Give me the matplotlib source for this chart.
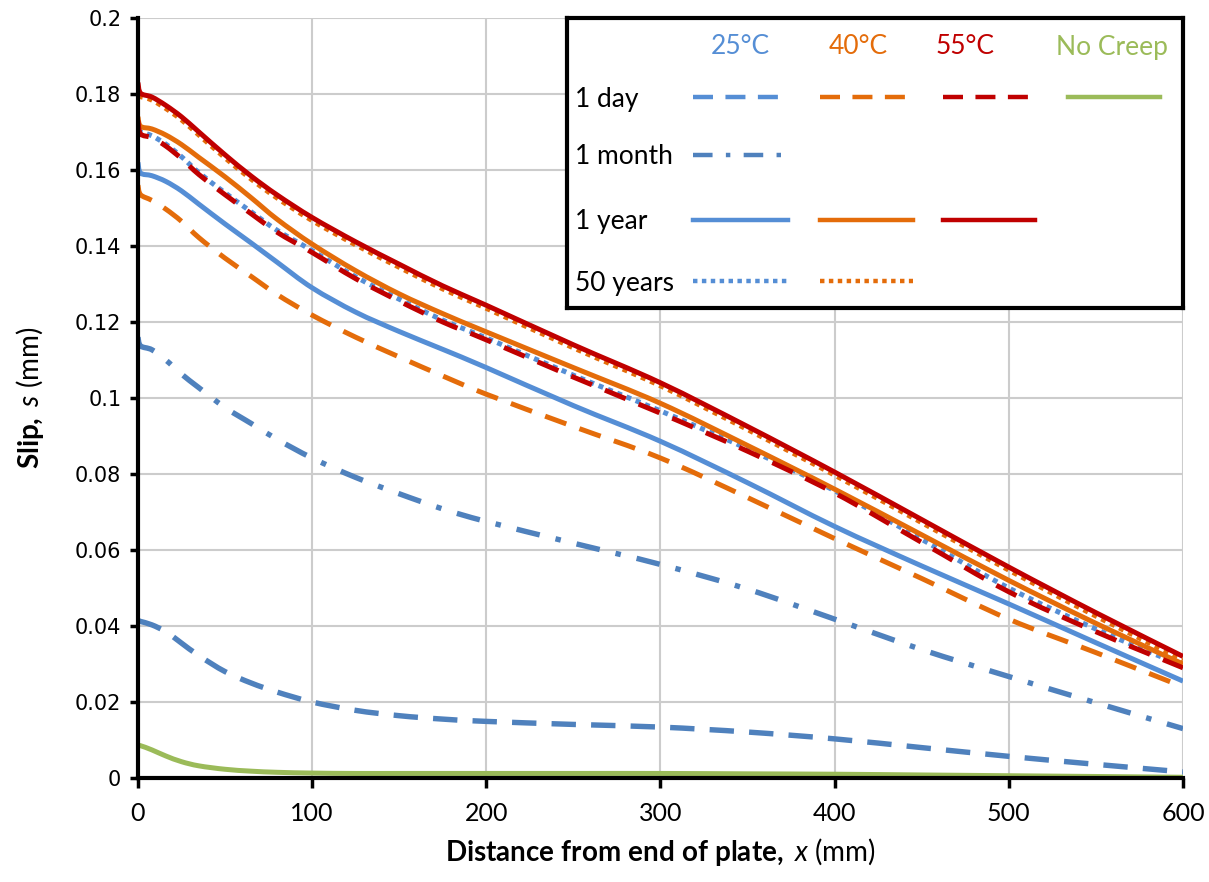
import matplotlib
matplotlib.use('Agg')
import matplotlib.pyplot as plt
from matplotlib.path import Path
from matplotlib.patches import PathPatch

plt.rcParams['font.family'] = ['Lato', 'DejaVu Sans']
plt.rcParams['mathtext.fontset'] = 'custom'
plt.rcParams['mathtext.rm'] = 'Lato'
plt.rcParams['mathtext.it'] = 'Lato:italic'
plt.rcParams['mathtext.bf'] = 'Lato:bold'

# distance from end of plate (mm)
x = [0, 1.5, 8, 16, 25, 35, 50, 65, 80, 100, 125, 150, 175, 200, 250, 300, 350, 400, 450, 500, 550, 600]

# slip (mm)
t25_day = [0.0415, 0.0412, 0.0403, 0.0385, 0.0355, 0.0322, 0.0280, 0.0250, 0.0226, 0.0200, 0.0178, 0.0164,
           0.0155, 0.0149, 0.0141, 0.0134, 0.0121, 0.0103, 0.0080, 0.0057, 0.0036, 0.0016]
t25_month = [0.116, 0.1137, 0.1127, 0.1100, 0.1063, 0.1027, 0.0975, 0.0933, 0.0891, 0.0842, 0.0791, 0.0748,
             0.0708, 0.0675, 0.0618, 0.0562, 0.0497, 0.0418, 0.0338, 0.0267, 0.0198, 0.0130]
t25_year = [0.162, 0.1592, 0.1585, 0.1570, 0.1545, 0.1510, 0.1458, 0.1408, 0.1357, 0.1290, 0.1226, 0.1175,
            0.1128, 0.1080, 0.0980, 0.0886, 0.0777, 0.0662, 0.0558, 0.0458, 0.0356, 0.0255]
t25_50y = [0.1705, 0.1700, 0.1690, 0.1668, 0.1635, 0.1593, 0.1540, 0.1490, 0.1441, 0.1388, 0.1319, 0.1260,
           0.1205, 0.1158, 0.1060, 0.0966, 0.0866, 0.0756, 0.0628, 0.0500, 0.0392, 0.0295]
t40_day = [0.156, 0.1535, 0.1520, 0.1497, 0.1465, 0.1422, 0.1368, 0.1320, 0.1272, 0.1218, 0.1160, 0.1108,
           0.1058, 0.1010, 0.0925, 0.0842, 0.0738, 0.0630, 0.0525, 0.0418, 0.0330, 0.0240]
t40_year = [0.174, 0.1715, 0.1708, 0.1692, 0.1667, 0.1633, 0.1582, 0.1527, 0.1470, 0.1405, 0.1335, 0.1274,
            0.1222, 0.1174, 0.1080, 0.0986, 0.0875, 0.0760, 0.0640, 0.0520, 0.0407, 0.0300]
t40_50y = [0.1795, 0.1793, 0.1784, 0.1762, 0.1732, 0.1692, 0.1632, 0.1576, 0.1526, 0.1467, 0.1403, 0.1344,
           0.1287, 0.1236, 0.1132, 0.1032, 0.0917, 0.0797, 0.0672, 0.0547, 0.0426, 0.0311]
t55_day = [0.173, 0.1695, 0.1685, 0.1663, 0.1630, 0.1588, 0.1535, 0.1485, 0.1436, 0.1383, 0.1314, 0.1255,
           0.1200, 0.1153, 0.1055, 0.0960, 0.0860, 0.0750, 0.0620, 0.0490, 0.0385, 0.0290]
t55_year = [0.183, 0.1802, 0.1792, 0.1770, 0.1740, 0.1700, 0.1640, 0.1584, 0.1534, 0.1475, 0.1411, 0.1352,
            0.1295, 0.1244, 0.1140, 0.1040, 0.0925, 0.0805, 0.0680, 0.0555, 0.0435, 0.0320]
no_creep = [0.0085, 0.0085, 0.0074, 0.0058, 0.0043, 0.0032, 0.0023, 0.0018, 0.0015, 0.0013, 0.0012, 0.0012,
            0.0012, 0.0012, 0.0012, 0.0012, 0.0011, 0.0010, 0.0008, 0.0006, 0.0004, 0.0002]

BLUE_D = '#4F81BD'
BLUE = '#558ED5'
ORANGE = '#E46C0A'
RED = '#C00000'
GREEN = '#9BBB59'
LW = 3.6
DASH = (0, (4.5, 2.8))
DASHDOT = (0, (4.4, 3, 1, 3))
DOT = (0, (1, 1))


def smooth_line(ax, xs, ys, **kw):
    # Excel-style smoothed line: cubic Bezier segments through the data points
    pts = list(zip(xs, ys))
    verts = [pts[0]]
    codes = [Path.MOVETO]
    n = len(pts)
    for i in range(n - 1):
        p0 = pts[max(i - 1, 0)]
        p1 = pts[i]
        p2 = pts[i + 1]
        p3 = pts[min(i + 2, n - 1)]
        c1 = (p1[0] + (p2[0] - p0[0]) / 6, p1[1] + (p2[1] - p0[1]) / 6)
        c2 = (p2[0] - (p3[0] - p1[0]) / 6, p2[1] - (p3[1] - p1[1]) / 6)
        verts += [c1, c2, p2]
        codes += [Path.CURVE4] * 3
    ax.add_patch(PathPatch(Path(verts, codes), fill=False, **kw))


fig = plt.figure(figsize=(12.09, 8.82), dpi=100)
ax = fig.add_axes([0.1141, 0.1179, 0.8644, 0.8617])

smooth_line(ax, x, t25_day, edgecolor=BLUE_D, lw=LW + 0.3, ls=DASH)
smooth_line(ax, x, t25_month, edgecolor=BLUE_D, lw=LW + 0.3, ls=DASHDOT)
smooth_line(ax, x, t25_year, edgecolor=BLUE, lw=LW)
smooth_line(ax, x, t25_50y, edgecolor=BLUE, lw=LW, ls=DOT)
smooth_line(ax, x, t40_day, edgecolor=ORANGE, lw=LW, ls=DASH)
smooth_line(ax, x, t40_year, edgecolor=ORANGE, lw=LW)
smooth_line(ax, x, t40_50y, edgecolor=ORANGE, lw=LW, ls=DOT)
smooth_line(ax, x, t55_day, edgecolor=RED, lw=LW, ls=DASH)
smooth_line(ax, x, t55_year, edgecolor=RED, lw=LW)
smooth_line(ax, x, no_creep, edgecolor=GREEN, lw=LW)

ax.set_xlim(0, 600)
ax.set_ylim(0, 0.2)
ax.set_xticks(range(0, 601, 100))
ax.set_yticks([i * 0.02 for i in range(11)])
ax.set_yticklabels(['0', '0.02', '0.04', '0.06', '0.08', '0.1', '0.12', '0.14', '0.16', '0.18', '0.2'],
                   family='DejaVu Sans', fontsize=15)
ax.tick_params(axis='x', labelsize=18, length=7, width=2.5, direction='out', pad=10)
ax.tick_params(axis='y', length=6, width=2.5, direction='out', pad=6)
ax.grid(True, color='#CCCCCC', lw=1.5)
ax.set_axisbelow(True)
for s in ['top', 'right']:
    ax.spines[s].set_visible(False)
for s in ['left', 'bottom']:
    ax.spines[s].set_linewidth(3)
    ax.spines[s].set_zorder(5)

ax.set_xlabel(r'$\mathbf{Distance\ from\ end\ of\ plate,}$ $\mathit{x}$ (mm)', fontsize=20, labelpad=8)
ax.set_ylabel(r'$\mathbf{Slip,}$ $\mathit{s}$ (mm)', fontsize=20, labelpad=21)

# custom legend table (pixel-like coordinates inside its own box)
lg = fig.add_axes([567 / 1209, (882 - 308) / 882, 616 / 1209, 290 / 882])
lg.set_xlim(567, 1183)
lg.set_ylim(308, 18)
lg.set_xticks([])
lg.set_yticks([])
for s in lg.spines.values():
    s.set_linewidth(3)
    s.set_color('black')

headers = ['25°C', '40°C', '55°C', 'No Creep']
header_colors = [BLUE, ORANGE, RED, GREEN]
header_x = [740, 858, 965, 1112]
for t, c, hx in zip(headers, header_colors, header_x):
    lg.text(hx, 47, t, color=c, fontsize=19, ha='center', va='center')

rows = ['1 day', '1 month', '1 year', '50 years']
row_y = [99, 157, 222, 283]
for t, ry in zip(rows, row_y):
    lg.text(575, ry, t, fontsize=19, ha='left', va='center')

col_x = [(693, 788), (820, 913), (943, 1035), (1068, 1160)]
keys = [
    (0, 0, BLUE, DASH), (0, 1, ORANGE, DASH), (0, 2, RED, DASH), (0, 3, GREEN, '-'),
    (1, 0, BLUE_D, DASHDOT),
    (2, 0, BLUE, '-'), (2, 1, ORANGE, '-'), (2, 2, RED, '-'),
    (3, 0, BLUE, DOT), (3, 1, ORANGE, DOT),
]
for r, c, col, ls in keys:
    ky = row_y[r] - 2
    lg.plot(col_x[c], [ky, ky], color=col, lw=3.2, ls=ls)

fig.savefig('out.png', dpi=100)
